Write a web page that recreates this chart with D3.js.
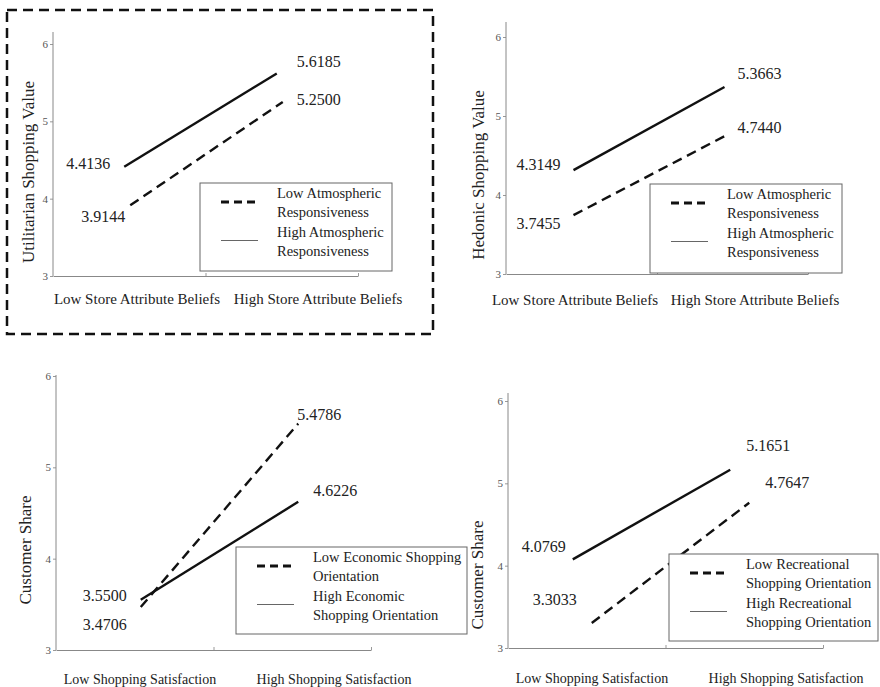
<!DOCTYPE html>
<html>
<head>
<meta charset="utf-8">
<script src="https://cdn.jsdelivr.net/npm/d3@7"></script>
<style>
  body { margin: 0; background: #fff; }
  svg text { font-family: "Liberation Serif", "Times New Roman", Times, "DejaVu Serif", serif; }
</style>
</head>
<body>
<div id="chart"></div>
<script>
// data
var yLabels = ["Utilitarian Shopping Value", "Hedonic Shopping Value", "Customer Share", "Customer Share"];
var storeCats = ["Low Store Attribute Beliefs", "High Store Attribute Beliefs"];
var satisCats = ["Low Shopping Satisfaction", "High Shopping Satisfaction"];
var yTicks = [3, 4, 5, 6];
var lowValues = [[3.9144, 5.2500], [3.7455, 4.7440], [3.4706, 5.4786], [3.3033, 4.7647]];
var highValues = [[4.4136, 5.6185], [4.3149, 5.3663], [3.5500, 4.6226], [4.0769, 5.1651]];
var lowLegend = [["Low Atmospheric", "Responsiveness"], ["Low Atmospheric", "Responsiveness"],
                 ["Low Economic Shopping", "Orientation"], ["Low Recreational", "Shopping Orientation"]];
var highLegend = [["High Atmospheric", "Responsiveness"], ["High Atmospheric", "Responsiveness"],
                  ["High Economic", "Shopping Orientation"], ["High Recreational", "Shopping Orientation"]];

// layout of the four panels
var panels = [
  { cats: storeCats, x0: 53, x1: 358, y3: 276, y6: 44, top: 32, ylabX: 28, ylabY: 172, catY: 299, catX: [137, 318], catSize: 15,
    legend: [200, 183, 192, 88], dxLow: 1, dxHigh: -5,
    lab: { lowL: [-5, 11], lowR: [14, -3], highL: [-14, -3], highR: [20, -12] } },
  { cats: storeCats, x0: 506, x1: 808, y3: 274, y6: 37, top: 22, ylabX: 478, ylabY: 175, catY: 300, catX: [575, 755], catSize: 15,
    legend: [650, 184, 192, 89], dxLow: -8, dxHigh: -8,
    lab: { lowL: [-13, 8], lowR: [13, -9], highL: [-13, -6], highR: [13, -14] } },
  { cats: satisCats, x0: 56, x1: 371, y3: 650, y6: 376, top: 375, ylabX: 25, ylabY: 550, catY: 679, catX: [140, 334], catSize: 14,
    legend: [236, 547, 231, 87], dxLow: 6, dxHigh: 6,
    lab: { lowL: [-14, 17], lowR: [-1, -9], highL: [-14, -4], highR: [15, -11] } },
  { cats: satisCats, x0: 508, x1: 823, y3: 648, y6: 401, top: 393, ylabX: 477, ylabY: 575, catY: 678, catX: [592, 786], catSize: 14,
    legend: [669, 554, 209, 87], dxLow: 5, dxHigh: -14,
    lab: { lowL: [-15, -24], lowR: [16, -20], highL: [-7, -13], highR: [16, -24] } }
];

var serif = "'Liberation Serif', 'Times New Roman', Times, serif";

var svg = d3.select("#chart").append("svg")
  .attr("width", 880).attr("height", 687)
  .attr("font-family", serif);

// dashed frame round the first panel
svg.append("rect")
  .attr("x", 7).attr("y", 10).attr("width", 426).attr("height", 324)
  .attr("fill", "none").attr("stroke", "#111").attr("stroke-width", 2.5)
  .attr("stroke-dasharray", "10,6");

panels.forEach(function(p, i) {
  var g = svg.append("g");

  var x = d3.scaleBand().domain(p.cats).range([p.x0, p.x1]);
  var y = d3.scaleLinear().domain([3, 6]).range([p.y3, p.y6]);
  var catX = d3.scalePoint().domain(p.cats).range(p.catX);

  // y axis
  var ya = g.append("g")
    .attr("transform", "translate(" + p.x0 + ",0)")
    .call(d3.axisLeft(y).tickValues(yTicks).tickSize(3).tickSizeOuter(0).tickFormat(d3.format("d")));
  ya.attr("font-family", serif);
  ya.select(".domain").remove();
  ya.selectAll("line").attr("stroke", "#999");
  ya.selectAll("text").attr("font-size", 11).attr("fill", "#555").attr("x", -5);
  g.append("line")
    .attr("x1", p.x0).attr("x2", p.x0).attr("y1", p.top).attr("y2", p.y3)
    .attr("stroke", "#888").attr("stroke-width", 1);

  // x axis
  var xa = g.append("g")
    .attr("transform", "translate(0," + p.y3 + ")")
    .call(d3.axisBottom(d3.scaleLinear().domain([0, 2]).range([p.x0, p.x1])).tickValues([1, 2]).tickSize(-3).tickSizeOuter(0).tickFormat(""));
  xa.select(".domain").attr("stroke", "#888");
  xa.selectAll("line").attr("stroke", "#999");

  // category labels
  g.selectAll(".cat").data(p.cats).enter().append("text")
    .attr("x", function(d) { return catX(d); })
    .attr("y", p.catY)
    .attr("dy", "0.35em")
    .attr("text-anchor", "middle")
    .attr("font-size", p.catSize)
    .attr("fill", "#222")
    .text(function(d) { return d; });

  // y label
  g.append("text")
    .attr("transform", "translate(" + p.ylabX + "," + p.ylabY + ") rotate(-90)")
    .attr("dy", "0.35em")
    .attr("text-anchor", "middle")
    .attr("font-size", 17)
    .attr("fill", "#222")
    .text(yLabels[i]);

  // lines
  var series = [
    { vals: lowValues[i], dx: p.dxLow, dash: "10,6", key: "low" },
    { vals: highValues[i], dx: p.dxHigh, dash: null, key: "high" }
  ];
  series.forEach(function(s) {
    var pts = s.vals.map(function(v, j) {
      return [x(p.cats[j]) + x.bandwidth() / 2 + s.dx, y(v)];
    });
    g.append("path")
      .attr("d", d3.line()(pts))
      .attr("fill", "none")
      .attr("stroke", "#111")
      .attr("stroke-width", 2.4)
      .attr("stroke-dasharray", s.dash);

    var offL = p.lab[s.key + "L"], offR = p.lab[s.key + "R"];
    g.append("text")
      .attr("x", pts[0][0] + offL[0]).attr("y", pts[0][1] + offL[1])
      .attr("dy", "0.35em").attr("text-anchor", "end")
      .attr("font-size", 16).attr("fill", "#222")
      .text(s.vals[0].toFixed(4));
    g.append("text")
      .attr("x", pts[1][0] + offR[0]).attr("y", pts[1][1] + offR[1])
      .attr("dy", "0.35em").attr("text-anchor", "start")
      .attr("font-size", 16).attr("fill", "#222")
      .text(s.vals[1].toFixed(4));
  });

  // legend
  var L = p.legend;
  var lg = g.append("g").attr("transform", "translate(" + L[0] + "," + L[1] + ")");
  lg.append("rect")
    .attr("width", L[2]).attr("height", L[3])
    .attr("fill", "#fff").attr("stroke", "#666").attr("stroke-width", 1);
  lg.append("line")
    .attr("x1", 21).attr("x2", 58).attr("y1", 19).attr("y2", 19)
    .attr("stroke", "#111").attr("stroke-width", 3).attr("stroke-dasharray", "8,5");
  lg.append("line")
    .attr("x1", 21).attr("x2", 58).attr("y1", 57.5).attr("y2", 57.5)
    .attr("stroke", "#666").attr("stroke-width", 1);
  var rows = lowLegend[i].concat(highLegend[i]);
  lg.selectAll(".lt").data(rows).enter().append("text")
    .attr("x", 77)
    .attr("y", function(d, k) { return 10 + k * 19.3; })
    .attr("dy", "0.35em")
    .attr("font-size", 14.5)
    .attr("fill", "#222")
    .text(function(d) { return d; });
});
</script>
</body>
</html>
